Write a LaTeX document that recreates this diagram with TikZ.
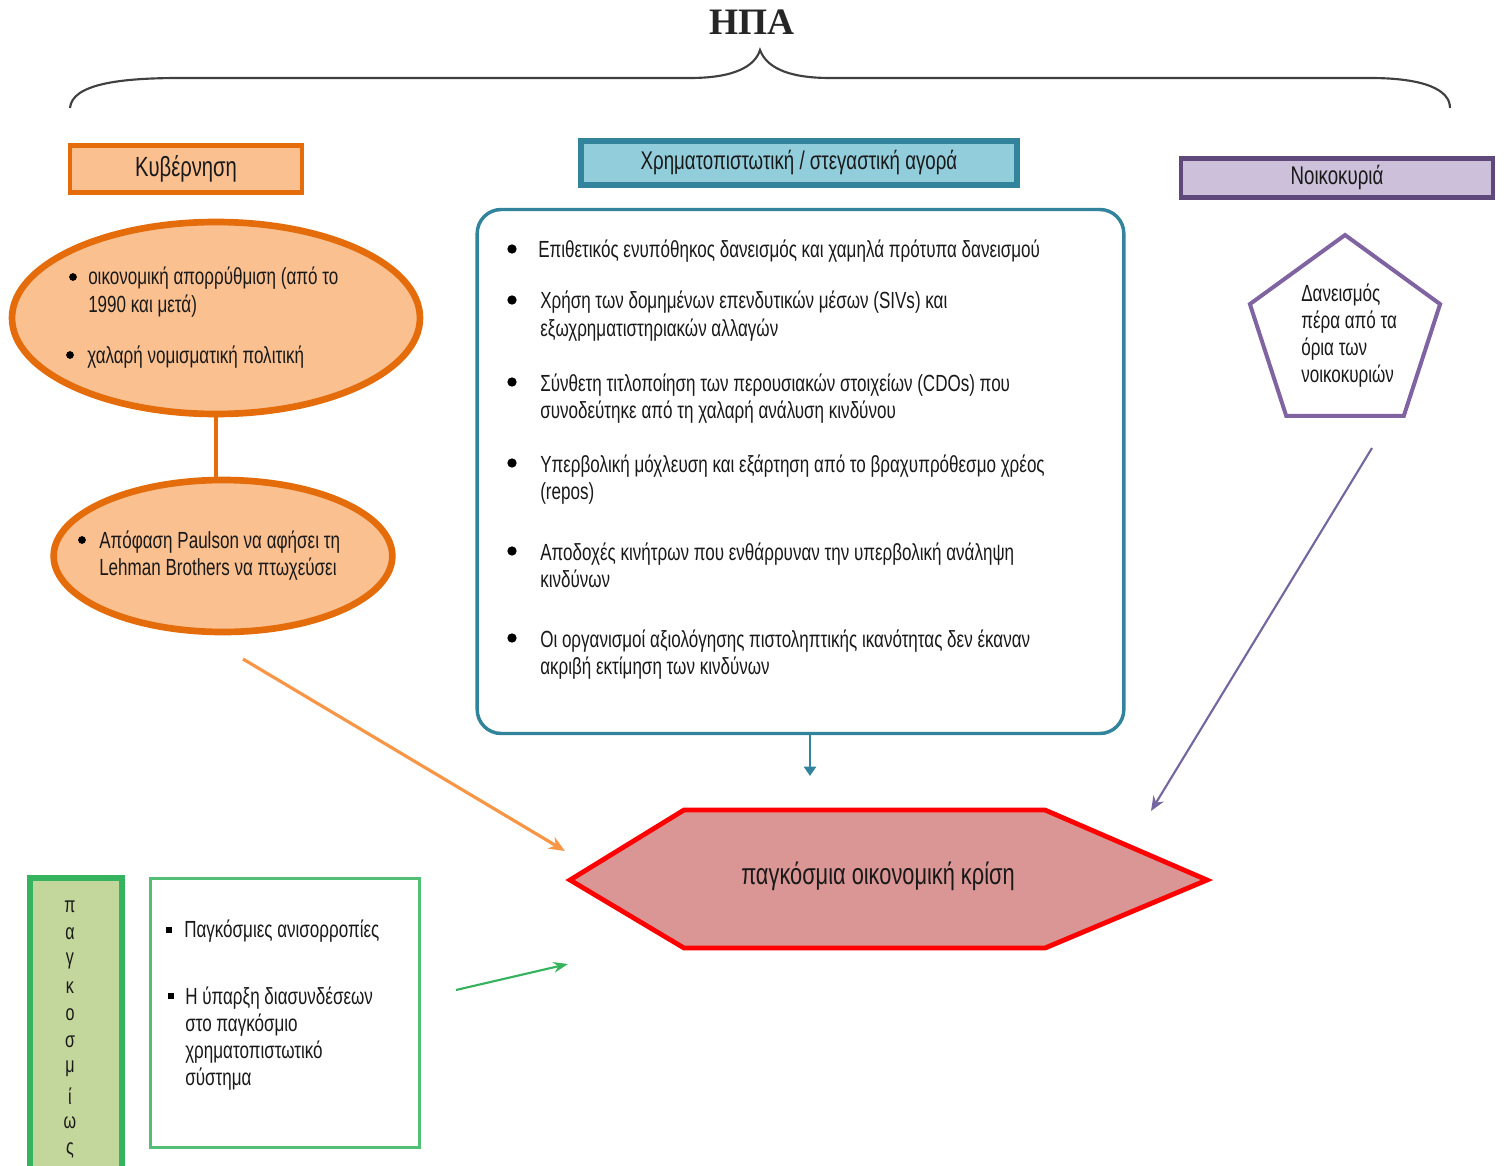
\documentclass[tikz,border=0pt]{standalone}
\usepackage{fontspec}
\setmainfont{Liberation Sans}[FakeStretch=0.73]
\newfontfamily\titlefont{Liberation Serif}
\usetikzlibrary{arrows.meta,shapes.geometric,shadows}
\definecolor{orbd}{HTML}{E46C0A}
\definecolor{orfill}{HTML}{FAC090}
\definecolor{tlbd}{HTML}{31849B}
\definecolor{tlfill}{HTML}{92CDDC}
\definecolor{pubd}{HTML}{5F497A}
\definecolor{pufill}{HTML}{CCC0DA}
\definecolor{pupent}{HTML}{8064A2}
\definecolor{puarrow}{HTML}{7466A0}
\definecolor{grbd}{HTML}{35B35E}
\definecolor{grfill}{HTML}{C3D69B}
\definecolor{hexfill}{HTML}{D99694}
\definecolor{orarrow}{HTML}{F79646}
\definecolor{braceclr}{HTML}{404040}
\begin{document}
\begin{tikzpicture}[x=0.75pt,y=-0.75pt,
  every node/.style={font=\fontsize{17.5}{20}\selectfont, text=black!90},
  hdr/.style={rectangle, line width=3.6pt, inner sep=0pt, font=\fontsize{19.2}{20}\selectfont, drop shadow={opacity=0.35,shadow xshift=1.5pt,shadow yshift=-1.5pt}},
  ln/.style={anchor=base west, inner sep=0pt},
  dot/.style={circle, fill=black, inner sep=0pt, minimum size=7pt},
  sdot/.style={circle, fill=black, inner sep=0pt, minimum size=5.8pt},
  sq/.style={rectangle, fill=black, inner sep=0pt, minimum size=4.8pt},
  shapebox/.style={inner sep=0pt},
]
\useasboundingbox (0,0) rectangle (1506,1166);

% title and brace
\node[font=\titlefont\bfseries\fontsize{28}{30}\selectfont, text=black!85] (title) at (752,22) {ΗΠΑ};
\coordinate (brL) at (70,108);
\coordinate (brM) at (760,50);
\coordinate (brR) at (1450,108);
\draw[braceclr, line width=1.6pt] (brL) .. controls (72,84) and (120,78) .. (180,78) -- (690,78)
   .. controls (735,78) and (755,66) .. (brM) .. controls (766,66) and (785,78) .. (830,78) -- (1370,78)
   .. controls (1425,78) and (1450,90) .. (brR);

% headers
\node[hdr, draw=orbd, fill=orfill, minimum width=174pt, minimum height=35pt, font=\fontsize{20.8}{22}\selectfont] (gov) at (186,169) {Κυβέρνηση};
\node[hdr, draw=tlbd, fill=tlfill, line width=4.2pt, minimum width=327pt, minimum height=33pt] (mkt) at (799,163) {Χρηματοπιστωτική / στεγαστική αγορά};
\node[hdr, draw=pubd, fill=pufill, minimum width=234pt, minimum height=29pt] (hh) at (1337,178) {Νοικοκυριά};

% government ellipses
\node[ellipse, draw=orbd, fill=orfill, line width=5pt, minimum width=306pt, minimum height=144pt, shapebox] (e1) at (216,318) {};
\node[ellipse, draw=orbd, fill=orfill, line width=5pt, minimum width=254pt, minimum height=114pt, shapebox] (e2) at (223,556) {};
\draw[orbd, line width=3.5pt] (e1.south) -- (e1.south |- e2.north);
\node[sdot] (e1b1) at (73,277) {};
\node[ln] (e1t1) at (88,285) {οικονομική απορρύθμιση (από το};
\node[ln] (e1t2) at (88,312) {1990 και μετά)};
\node[sdot] (e1b2) at (70,355) {};
\node[ln] (e1t3) at (87,363) {χαλαρή νομισματική πολιτική};
\node[sdot] (e2b1) at (82,540) {};
\node[ln] (e2t1) at (99,548) {Απόφαση Paulson να αφήσει τη};
\node[ln] (e2t2) at (99,575) {Lehman Brothers να πτωχεύσει};

% market box
\node[rectangle, rounded corners=18pt, draw=tlbd, line width=2.6pt, fill=white, minimum width=485pt, minimum height=393pt, shapebox] (mid) at (800.5,471.5) {};
\node[dot] (mb1) at (512,249) {};
\node[ln] (mt1) at (538,258) {Επιθετικός ενυπόθηκος δανεισμός και χαμηλά πρότυπα δανεισμού};
\node[dot] (mb2) at (512,300) {};
\node[ln] (mt2a) at (540,309) {Χρήση των δομημένων επενδυτικών μέσων (SIVs) και};
\node[ln] (mt2b) at (540,336) {εξωχρηματιστηριακών αλλαγών};
\node[dot] (mb3) at (512,382) {};
\node[ln] (mt3a) at (540,391) {Σύνθετη τιτλοποίηση των περουσιακών στοιχείων (CDOs) που};
\node[ln] (mt3b) at (540,418) {συνοδεύτηκε από τη χαλαρή ανάλυση κινδύνου};
\node[dot] (mb4) at (512,463) {};
\node[ln] (mt4a) at (540,472) {Υπερβολική μόχλευση και εξάρτηση από το βραχυπρόθεσμο χρέος};
\node[ln] (mt4b) at (540,499) {(repos)};
\node[dot] (mb5) at (512,551) {};
\node[ln] (mt5a) at (540,560) {Αποδοχές κινήτρων που ενθάρρυναν την υπερβολική ανάληψη};
\node[ln] (mt5b) at (540,587) {κινδύνων};
\node[dot] (mb6) at (512,638) {};
\node[ln] (mt6a) at (540,647) {Οι οργανισμοί αξιολόγησης πιστοληπτικής ικανότητας δεν έκαναν};
\node[ln] (mt6b) at (540,674) {ακριβή εκτίμηση των κινδύνων};

% households pentagon
\node[regular polygon, regular polygon sides=5, draw=pupent, line width=3pt, fill=white, minimum size=150pt, shapebox] (pent) at (1345,335) {};
\node[ln] (pt1) at (1301,301) {Δανεισμός};
\node[ln] (pt2) at (1301,328) {πέρα από τα};
\node[ln] (pt3) at (1301,355) {όρια των};
\node[ln] (pt4) at (1301,382) {νοικοκυριών};

% crisis hexagon
\coordinate (hxL) at (570,880);
\coordinate (hxTL) at (684,810);
\coordinate (hxTR) at (1045,810);
\coordinate (hxR) at (1207,880);
\coordinate (hxBR) at (1045,948);
\coordinate (hxBL) at (684,948);
\draw[red, fill=hexfill, line width=3.6pt, line join=miter, drop shadow={opacity=0.3,shadow xshift=1.5pt,shadow yshift=-1.5pt}] (hxL) -- (hxTL) -- (hxTR) -- (hxR) -- (hxBR) -- (hxBL) -- cycle;
\node[font=\fontsize{22.4}{24}\selectfont] (crisis) at (878,876) {παγκόσμια οικονομική κρίση};

% global boxes
\node[rectangle, draw=grbd, fill=grfill, line width=4.5pt, minimum width=69pt, minimum height=230pt, shapebox] (glob) at (76,1031) {};
\foreach \ch [count=\i from 0] in {π,α,γ,κ,ο,σ,μ,ί,ω,ς} {
  \node[font=\fontsize{16.5}{18}\selectfont] (g\i) at (70,907+27*\i) {\ch};
}
\node[rectangle, draw=grbd!85, line width=2.4pt, fill=white, minimum width=202pt, minimum height=202pt, shapebox] (gl2) at (285,1013) {};
\node[sq] (gb1) at (169,930) {};
\node[ln] (gt1) at (184,937) {Παγκόσμιες ανισορροπίες};
\node[sq] (gb2) at (171,996) {};
\node[ln] (gt2a) at (185,1004) {Η ύπαρξη διασυνδέσεων};
\node[ln] (gt2b) at (185,1031) {στο παγκόσμιο};
\node[ln] (gt2c) at (185,1058) {χρηματοπιστωτικό};
\node[ln] (gt2d) at (185,1085) {σύστημα};

% arrows
\coordinate (midout) at (810,735);
\coordinate (hexin) at (810,776);
\draw[tlbd, line width=2pt, -{Triangle[length=7pt,width=9pt]}] (midout) -- (hexin);
\coordinate (orfrom) at (243,659);
\coordinate (orto) at (565,851);
\draw[orarrow, line width=2.4pt, -{Stealth[length=12pt,width=10pt]}] (orfrom) -- (orto);
\coordinate (pufrom) at (1372,448);
\coordinate (puto) at (1151,811);
\draw[puarrow, line width=1.6pt, -{Stealth[length=11pt,width=9pt]}] (pufrom) -- (puto);
\coordinate (grfrom) at (456,990);
\coordinate (grto) at (568,964);
\draw[grbd, line width=1.6pt, -{Stealth[length=11pt,width=8pt]}] (grfrom) -- (grto);
\end{tikzpicture}
\end{document}
